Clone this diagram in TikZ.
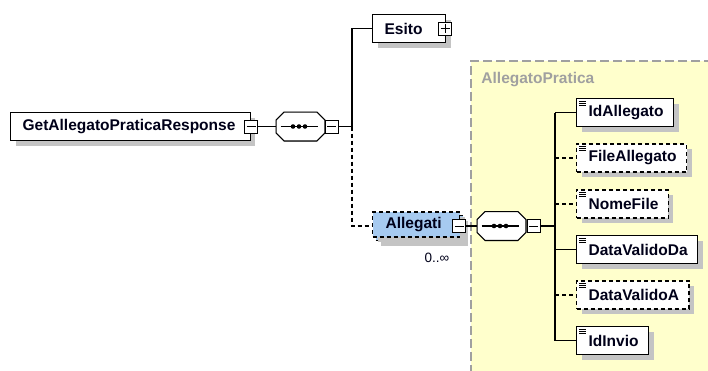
\documentclass[tikz,border=0pt]{standalone}
\usepackage{fontspec}
\setmainfont{Liberation Sans}
\usetikzlibrary{calc}
\usetikzlibrary{positioning}
\usetikzlibrary{shadows}
\definecolor{xsdyellow}{HTML}{FFFFCC}
\definecolor{xsdblue}{HTML}{A6CAF0}
\definecolor{xsdshadow}{HTML}{C4C4C4}
\definecolor{xsdgray}{HTML}{A0A0A0}
\tikzset{
  xsd_shadow/.style = {drop shadow={shadow xshift=5pt, shadow yshift=-5pt, fill=xsdshadow, opacity=1}},
  xsd_font/.style = {font=\fontsize{15.5}{17}\selectfont\bfseries},
  xsd_dash/.style = {dash pattern=on 4pt off 3pt},
  el_n/.style = {rectangle, draw=black, fill=white, line width=1.3pt, minimum height=28pt, inner sep=0pt,
                 xsd_font, text=black!90!blue, xsd_shadow},
  el_opt/.style = {el_n, xsd_dash},
  el_many/.style = {el_n, xsd_dash, fill=xsdblue},
  btn_n/.style = {rectangle, draw=black, fill=white, line width=1pt, minimum size=13pt, inner sep=0pt},
  seq_n/.style = {rectangle, minimum width=48pt, minimum height=28pt, inner sep=0pt},
  link/.style = {draw=black, line width=1.1pt},
  link_opt/.style = {link, xsd_dash}
}
% padding left and right of a label
\newcommand{\pad}[3]{\hspace{#1}#2\hspace{#3}\null}
% minus and plus marks inside a button
\newcommand{\btnminus}[1]{\draw ($(#1.west)+(2.5,0)$) -- ($(#1.east)+(-2.5,0)$);}
\newcommand{\btnplus}[1]{\btnminus{#1}\draw ($(#1.north)+(0,2.5)$) -- ($(#1.south)+(0,-2.5)$);}
% outline of a sequence compositor, with its dots
\newcommand{\seqshape}[1]{
  \foreach \sx/\sc/\sd in {5/xsdshadow/xsdshadow,0/white/black} {
    \filldraw[fill=\sc, draw=\sd, line width=1.1pt, shift={(\sx,\sx)}]
      ($(#1.north west)+(8,0)$) -- ($(#1.north east)+(-8,0)$) -- ($(#1.north east)+(0,8)$)
      -- ($(#1.south east)+(0,-8)$) -- ($(#1.south east)+(-8,0)$) -- ($(#1.south west)+(8,0)$)
      -- ($(#1.south west)+(0,-8)$) -- ($(#1.north west)+(0,8)$) -- cycle;
  }
  \draw[line width=1.3pt] ($(#1.center)+(-20,0)$) -- ($(#1.center)+(17,0)$);
  \foreach \dx in {-6,0,6} {\fill ($(#1.center)+(\dx-1.5,0)$) circle (2.3pt);}
}
% icon of a simple type element
\newcommand{\elicon}[1]{
  \foreach \dy in {3.5,5.5,7.5} {\draw[line width=0.9pt] ($(#1.north west)+(3,\dy)$) -- ++(7,0);}
}

\begin{document}
\begin{tikzpicture}[x=1pt,y=-1pt,line width=0.9pt]
\useasboundingbox (0,0) rectangle (708,370);

% complex type area
\fill[xsdyellow] (471,61) rectangle (712,374);
\draw[xsdgray, line width=1.1pt, dash pattern=on 9pt off 4pt] (471,374) -- (471,61) -- (712,61);
\node[anchor=west, text=xsdgray, xsd_font, inner sep=0pt] (type_lbl) at (481,80) {AllegatoPratica};

% root element
\node[el_n, anchor=west] (root) at (10,126.5) {\pad{12pt}{GetAllegatoPraticaResponse}{15pt}};
\node[btn_n] (root_btn) at (root.east) {};
\btnminus{root_btn}
\node[seq_n] (seq_a) at (300.5,126.5) {};
\seqshape{seq_a}
\node[btn_n] (seq_a_btn) at (331.5,126.5) {};
\btnminus{seq_a_btn}
\draw[link] (root_btn) -- (seq_a);
\draw[link] (seq_a_btn.east) -- (352,126.5) coordinate (fork_a);

% Esito
\node[el_n, anchor=west] (esito) at (372,28.5) {\pad{12pt}{Esito}{23pt}};
\node[btn_n] (esito_btn) at ($(esito.east)+(-1,0)$) {};
\btnplus{esito_btn}
\draw[link] (fork_a) |- (esito);

% Allegati (repeated element: two stacked boxes)
\node[el_many, anchor=west, minimum height=25pt] (alleg_back) at (375,228) {\pad{13pt}{\phantom{Allegati}}{18pt}};
\node[el_many, anchor=west, minimum height=25pt, drop shadow={opacity=0}] (allegati) at (372,224.5) {\pad{13pt}{Allegati}{18pt}};
\node[btn_n] (alleg_btn) at ($(allegati.east)+(-1,1.5)$) {};
\btnminus{alleg_btn}
\node[text=black!90!blue, font=\fontsize{13.5}{15}\selectfont] (alleg_card) at (437,258) {0..∞};
\draw[link_opt] (fork_a) |- (allegati.west |- alleg_btn);

\node[seq_n] (seq_b) at (501.5,226) {};
\seqshape{seq_b}
\node[btn_n] (seq_b_btn) at (533.5,226) {};
\btnminus{seq_b_btn}
\draw[link] (alleg_btn) -- (seq_b);
\draw[link] (seq_b_btn.east) -- (555,226) coordinate (fork_b);

% children of AllegatoPratica
\node[el_n, anchor=west] (id_alleg) at (576,112.5) {\pad{12pt}{IdAllegato}{10pt}};
\node[el_opt, anchor=west] (file_alleg) at (576,158) {\pad{12pt}{FileAllegato}{10pt}};
\node[el_opt, anchor=west] (nome_file) at (576,204) {\pad{12pt}{NomeFile}{10pt}};
\node[el_n, anchor=west] (data_da) at (576,249.5) {\pad{12pt}{DataValidoDa}{10pt}};
\node[el_opt, anchor=west] (data_a) at (576,295) {\pad{12pt}{DataValidoA}{10pt}};
\node[el_n, anchor=west] (id_invio) at (576,340.5) {\pad{12pt}{IdInvio}{10pt}};
\foreach \n in {id_alleg,file_alleg,nome_file,data_da,data_a,id_invio} {\elicon{\n}}

\draw[link] (fork_b |- id_alleg) -- (fork_b |- id_invio);
\draw[link] (fork_b |- id_alleg) -- (id_alleg);
\draw[link_opt] (fork_b |- file_alleg) -- (file_alleg);
\draw[link_opt] (fork_b |- nome_file) -- (nome_file);
\draw[link] (fork_b |- data_da) -- (data_da);
\draw[link_opt] (fork_b |- data_a) -- (data_a);
\draw[link] (fork_b |- id_invio) -- (id_invio);
\end{tikzpicture}
\end{document}
